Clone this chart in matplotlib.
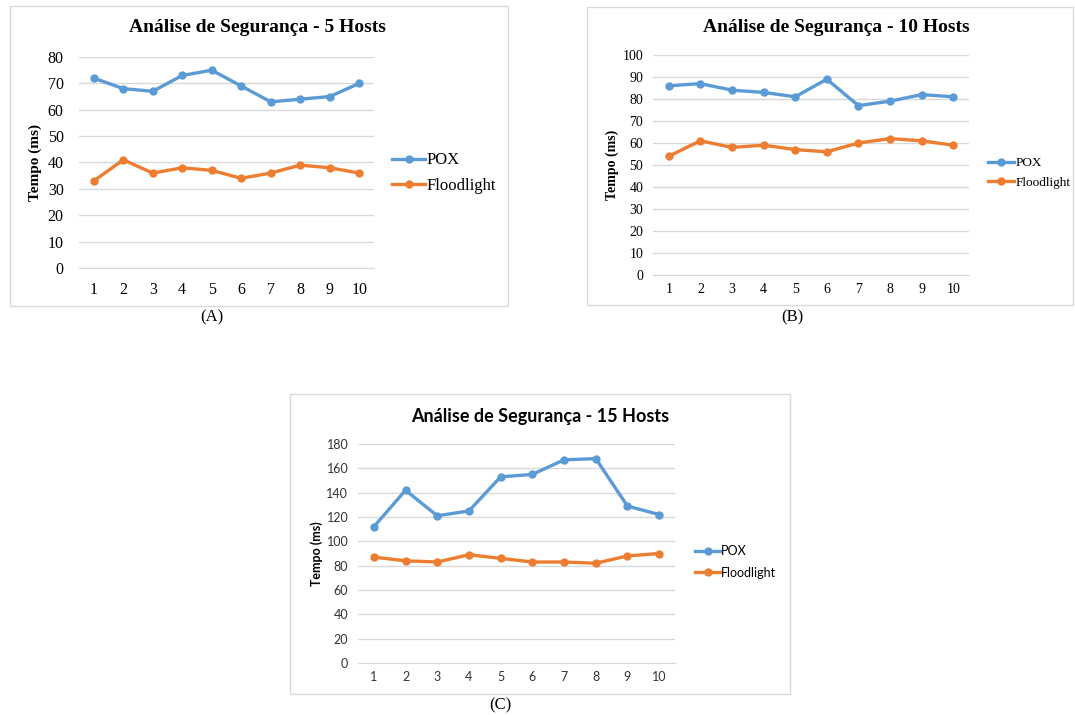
import matplotlib.pyplot as plt
from matplotlib.patches import Rectangle

W, H = 1075, 715

hosts = [1, 2, 3, 4, 5, 6, 7, 8, 9, 10]

pox_5 = [72, 68, 67, 73, 75, 69, 63, 64, 65, 70]
flood_5 = [33, 41, 36, 38, 37, 34, 36, 39, 38, 36]

pox_10 = [86, 87, 84, 83, 81, 89, 77, 79, 82, 81]
flood_10 = [54, 61, 58, 59, 57, 56, 60, 62, 61, 59]

pox_15 = [112, 142, 121, 125, 153, 155, 167, 168, 129, 122]
flood_15 = [87, 84, 83, 89, 86, 83, 83, 82, 88, 90]

titles = ['Análise de Segurança - 5 Hosts',
          'Análise de Segurança - 10 Hosts',
          'Análise de Segurança - 15 Hosts']
captions = ['(A)', '(B)', '(C)']

BLUE = '#5B9BD5'
ORANGE = '#ED7D31'
GRID = '#D9D9D9'

fig = plt.figure(figsize=(W / 100, H / 100), dpi=100)


def fx(x):
    return x / W


def fy(y):
    return 1 - y / H


def panel(frame, box, ymax, ystep, pox, flood, title, title_pos, ylab_x,
          leg_pos, caption, cap_pos, font, sizes, pads):
    # frame around the chart (pixel coords)
    x0, y0, x1, y1 = frame
    fig.patches.append(Rectangle((fx(x0), fy(y1)), (x1 - x0) / W, (y1 - y0) / H,
                                 transform=fig.transFigure, fill=False,
                                 edgecolor=GRID, linewidth=1))
    l, t, r, b = box
    ax = fig.add_axes([fx(l), fy(b), (r - l) / W, (b - t) / H])
    ax.plot(hosts, pox, color=BLUE, lw=2.4, marker='o', ms=5, label='POX', clip_on=False)
    ax.plot(hosts, flood, color=ORANGE, lw=2.4, marker='o', ms=5, label='Floodlight', clip_on=False)
    ax.set_xlim(0.5, 10.5)
    ax.set_ylim(0, ymax)
    ax.set_yticks(range(0, ymax + 1, ystep))
    ax.set_xticks(hosts)
    ax.grid(axis='y', color=GRID, lw=1)
    ax.set_axisbelow(True)
    for s in ['top', 'right', 'left']:
        ax.spines[s].set_visible(False)
    ax.spines['bottom'].set_color(GRID)
    ax.tick_params(length=0)
    ax.tick_params(axis='y', pad=pads[0], labelsize=sizes[1])
    ax.tick_params(axis='x', pad=pads[1], labelsize=sizes[1])
    for lab in ax.get_xticklabels() + ax.get_yticklabels():
        lab.set_fontfamily(font)
        lab.set_color('#333333' if font != 'Liberation Serif' else 'black')

    fig.text(fx(title_pos[0]), fy(title_pos[1]), title, ha='center', va='center',
             fontsize=sizes[0], fontweight='bold', family=font)
    fig.text(fx(ylab_x), fy((t + b) / 2), 'Tempo (ms)', rotation=90, ha='center',
             va='center', fontsize=sizes[2], fontweight='bold', family=font)
    fig.legend(handles=ax.get_lines(), loc='center left',
               bbox_to_anchor=(fx(leg_pos[0]), fy(leg_pos[1])), frameon=False,
               prop={'family': font, 'size': sizes[3]}, handlelength=2.0,
               handletextpad=0.1, labelspacing=leg_pos[2], borderaxespad=0,
               borderpad=0)
    fig.text(fx(cap_pos[0]), fy(cap_pos[1]), caption, ha='center', va='center',
             fontsize=12, family='Liberation Serif')
    return ax


panel((10, 6, 508, 306), (79, 57, 374, 268), 80, 10, pox_5, flood_5,
      titles[0], (257, 28), 35, (392, 173, 0.55), captions[0], (212, 317),
      'Liberation Serif', (14, 11.5, 11, 12), (11, 10))

panel((587, 7, 1073, 305), (653, 55, 969, 275), 100, 10, pox_10, flood_10,
      titles[1], (836, 27), 612, (988, 173, 0.55), captions[1], (792, 317),
      'Liberation Serif', (14, 10, 10, 9.5), (7, 6))

panel((290, 394, 790, 694), (358, 444, 675, 663), 180, 20, pox_15, flood_15,
      titles[2], (540, 417), 317, (695, 562, 0.75), captions[2], (500, 705),
      'Lato', (13, 9, 9, 9), (7, 6))

fig.savefig('out.png', dpi=100)
